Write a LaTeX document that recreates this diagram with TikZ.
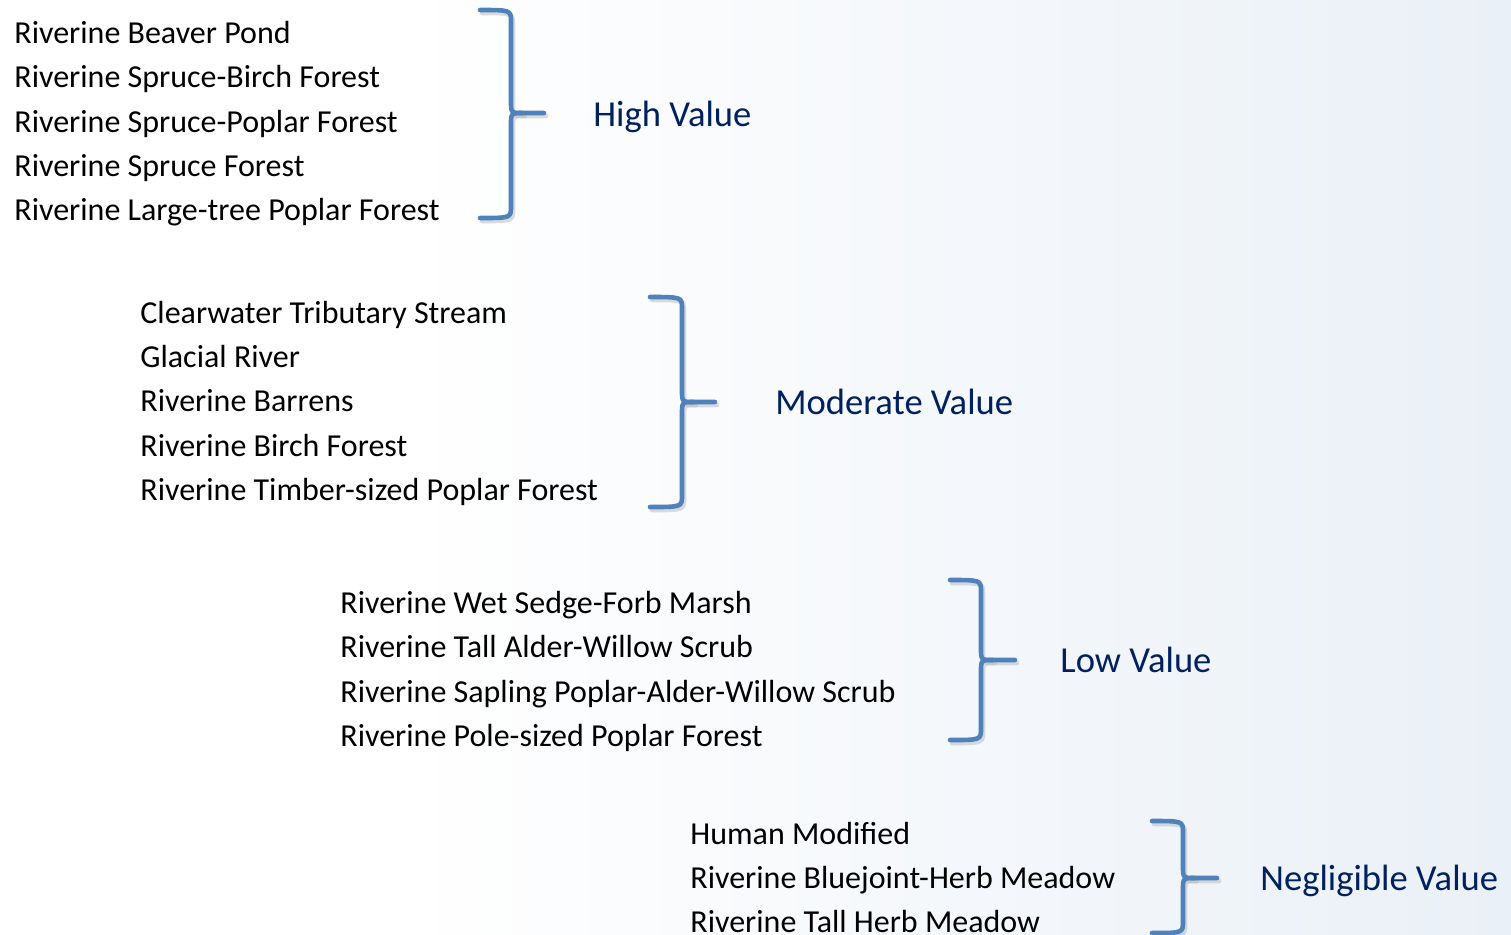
\documentclass[tikz,border=0pt]{standalone}
\usepackage{fontspec}
\setmainfont{Carlito}
\definecolor{bracecol}{HTML}{4F81BD}
\definecolor{labcol}{HTML}{002060}
\definecolor{bgblue}{HTML}{EAF0F7}
\definecolor{shadowcol}{HTML}{B8B8B8}
\tikzset{
  item/.style={anchor=base west, inner sep=0pt, font=\fontsize{16}{19}\selectfont, text=black},
  vlabel/.style={anchor=base west, inner sep=0pt, font=\fontsize{18.3}{22}\selectfont, text=labcol},
  bracestyle/.style={draw=bracecol, line width=2.3pt, line cap=round, line join=round},
  braceshadow/.style={draw=shadowcol, line width=2.3pt, line cap=round, line join=round, opacity=0.5},
}
\begin{document}
\begin{tikzpicture}[x=0.5pt,y=-0.5pt]
\useasboundingbox (0,0) rectangle (1511,934);
\fill[white] (0,0) rectangle (1511,934);
\shade[left color=white, right color=bgblue] (400,0) rectangle (1511,934);

% group 1
\node[item] (a1) at (14,43.5) {Riverine Beaver Pond};
\node[item] (a2) at (14,87.5) {Riverine Spruce-Birch Forest};
\node[item] (a3) at (14,132.5) {Riverine Spruce-Poplar Forest};
\node[item] (a4) at (14,176.5) {Riverine Spruce Forest};
\node[item] (a5) at (14,220.5) {Riverine Large-tree Poplar Forest};
\node[vlabel] (la) at (593,126) {High Value};

% group 2
\node[item] (b1) at (140,323.5) {Clearwater Tributary Stream};
\node[item] (b2) at (140,367.5) {Glacial River};
\node[item] (b3) at (140,411.5) {Riverine Barrens};
\node[item] (b4) at (140,456.5) {Riverine Birch Forest};
\node[item] (b5) at (140,500.5) {Riverine Timber-sized Poplar Forest};
\node[vlabel] (lb) at (775,414) {Moderate Value};

% group 3
\node[item] (c1) at (340,613.5) {Riverine Wet Sedge-Forb Marsh};
\node[item] (c2) at (340,657.5) {Riverine Tall Alder-Willow Scrub};
\node[item] (c3) at (340,702.5) {Riverine Sapling Poplar-Alder-Willow Scrub};
\node[item] (c4) at (340,746.5) {Riverine Pole-sized Poplar Forest};
\node[vlabel] (lc) at (1060,672) {Low Value};

% group 4
\node[item] (d1) at (690,844.5) {Human Modified};
\node[item] (d2) at (690,888.5) {Riverine Bluejoint-Herb Meadow};
\node[item] (d3) at (690,932.5) {Riverine Tall Herb Meadow};
\node[vlabel] (ld) at (1260,890) {Negligible Value};

% braces (shadow first, then brace)
\foreach \xo/\xv/\xt/\yt/\ym/\yb in {480/511/544/10/113/218, 650/682/715/297/402/507, 950/981/1015/580/660/740, 1152/1183/1217/821/878/933}{
  \begin{scope}[shift={(2,3)}]
  \draw[braceshadow] (\xo,\yt) .. controls (\xv,\yt) and (\xv,\yt) .. (\xv,\yt+12)
    -- (\xv,\ym-12) .. controls (\xv,\ym) and (\xv,\ym) .. (\xv+12,\ym) -- (\xt,\ym);
  \draw[braceshadow] (\xv+12,\ym) .. controls (\xv,\ym) and (\xv,\ym) .. (\xv,\ym+12)
    -- (\xv,\yb-12) .. controls (\xv,\yb) and (\xv,\yb) .. (\xo,\yb);
  \end{scope}
  \draw[bracestyle] (\xo,\yt) .. controls (\xv,\yt) and (\xv,\yt) .. (\xv,\yt+12)
    -- (\xv,\ym-12) .. controls (\xv,\ym) and (\xv,\ym) .. (\xv+12,\ym) -- (\xt,\ym);
  \draw[bracestyle] (\xv+12,\ym) .. controls (\xv,\ym) and (\xv,\ym) .. (\xv,\ym+12)
    -- (\xv,\yb-12) .. controls (\xv,\yb) and (\xv,\yb) .. (\xo,\yb);
}
\end{tikzpicture}
\end{document}
